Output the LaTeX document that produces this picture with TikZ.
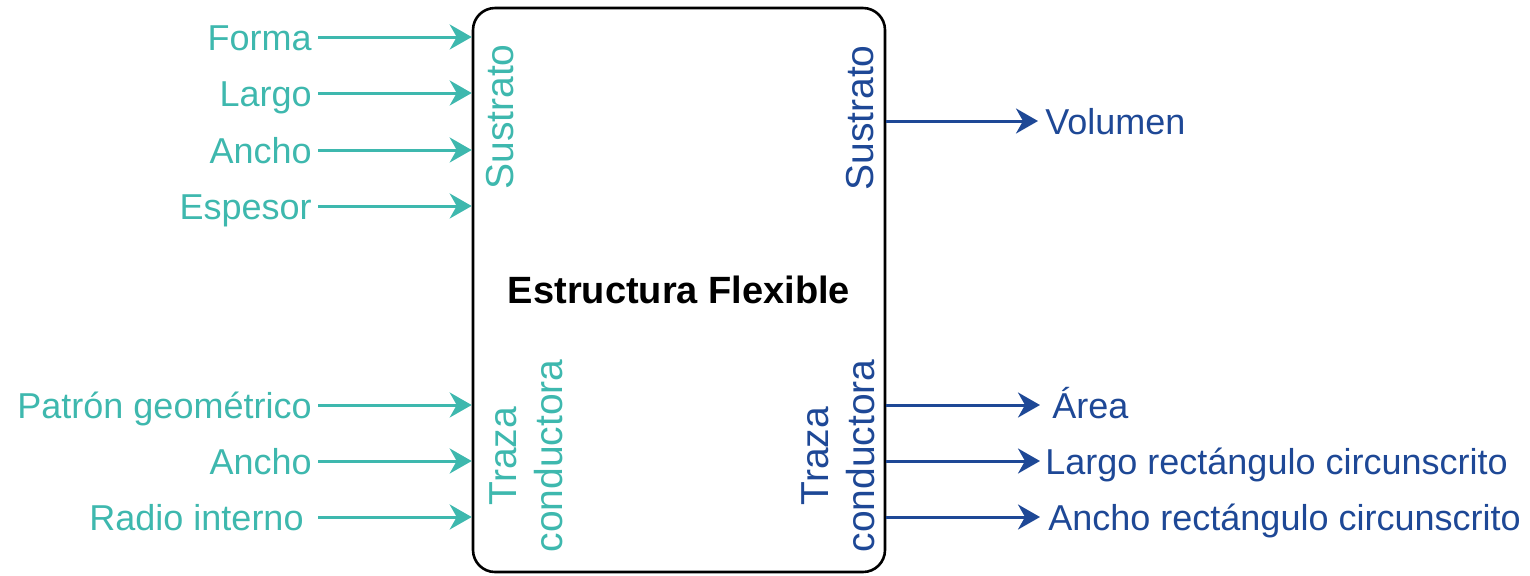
\documentclass[tikz,border=0pt]{standalone}
\usepackage{fontspec}
\setmainfont{Liberation Sans}
\usetikzlibrary{arrows.meta}

\definecolor{tealin}{RGB}{62,184,174}
\definecolor{blueout}{RGB}{30,72,150}

\tikzset{
  inlabel/.style={anchor=east, inner sep=0pt, text height=13pt, text depth=0pt,
    text=tealin, font=\fontsize{18}{22}\selectfont},
  outlabel/.style={anchor=west, inner sep=0pt, text height=13pt, text depth=0pt,
    text=blueout, font=\fontsize{18}{22}\selectfont},
  vlabel/.style={rotate=90, align=center, inner sep=0pt,
    font=\fontsize{19.5}{23}\selectfont},
  inarrow/.style={draw=tealin, line width=1.5pt, shorten <=3pt,
    -{Stealth[length=11pt,width=12.5pt,inset=3.5pt]}},
  outarrow/.style={draw=blueout, line width=1.5pt,
    -{Stealth[length=11pt,width=12.5pt,inset=3.5pt]}},
}

\begin{document}
\begin{tikzpicture}[x=0.5pt,y=-0.5pt]
    \useasboundingbox (0,0) rectangle (1530,575);

    \node[draw, line width=1.3pt, rounded corners=11pt,
      minimum width=206pt, minimum height=282pt,
      font=\bfseries\fontsize{19}{23}\selectfont] (box) at (679,290) {Estructura Flexible};

    % inputs
    \node[inlabel] (forma) at (312,37) {Forma};
    \node[inlabel] (largo) at (312,93) {Largo};
    \node[inlabel] (ancho) at (312,150) {Ancho};
    \node[inlabel] (espesor) at (312,206) {Espesor};
    \node[inlabel] (patron) at (312,405) {Patrón geométrico};
    \node[inlabel] (anchotraza) at (312,461) {Ancho};
    \node[inlabel] (radio) at (304,517) {Radio interno};

    \draw[inarrow] (forma.east) -- (forma -| box.west);
    \draw[inarrow] (largo.east) -- (largo -| box.west);
    \draw[inarrow] (ancho.east) -- (ancho -| box.west);
    \draw[inarrow] (espesor.east) -- (espesor -| box.west);
    \draw[inarrow] (patron.east) -- (patron -| box.west);
    \draw[inarrow] (anchotraza.east) -- (anchotraza -| box.west);
    \draw[inarrow, shorten <=7pt] (radio.east) -- (radio -| box.west);

    % outputs
    \node[outlabel] (volumen) at (1045,121) {Volumen};
    \node[outlabel] (area) at (1052,405) {Área};
    \node[outlabel] (largorect) at (1045,461) {Largo rectángulo circunscrito};
    \node[outlabel] (anchorect) at (1048,517) {Ancho rectángulo circunscrito};

    \draw[outarrow, shorten >=3.5pt] (volumen -| box.east) -- (volumen.west);
    \draw[outarrow, shorten >=6pt] (area -| box.east) -- (area.west);
    \draw[outarrow, shorten >=2.5pt] (largorect -| box.east) -- (largorect.west);
    \draw[outarrow, shorten >=4pt] (anchorect -| box.east) -- (anchorect.west);

    % side labels
    \node[vlabel, text=tealin] (sustratoin) at (500,117) {Sustrato};
    \node[vlabel, text=tealin] (trazain) at (526,456) {Traza\\conductora};
    \node[vlabel, text=blueout] (sustratoout) at (860,118) {Sustrato};
    \node[vlabel, text=blueout] (trazaout) at (838,456) {Traza\\conductora};
\end{tikzpicture}
\end{document}
